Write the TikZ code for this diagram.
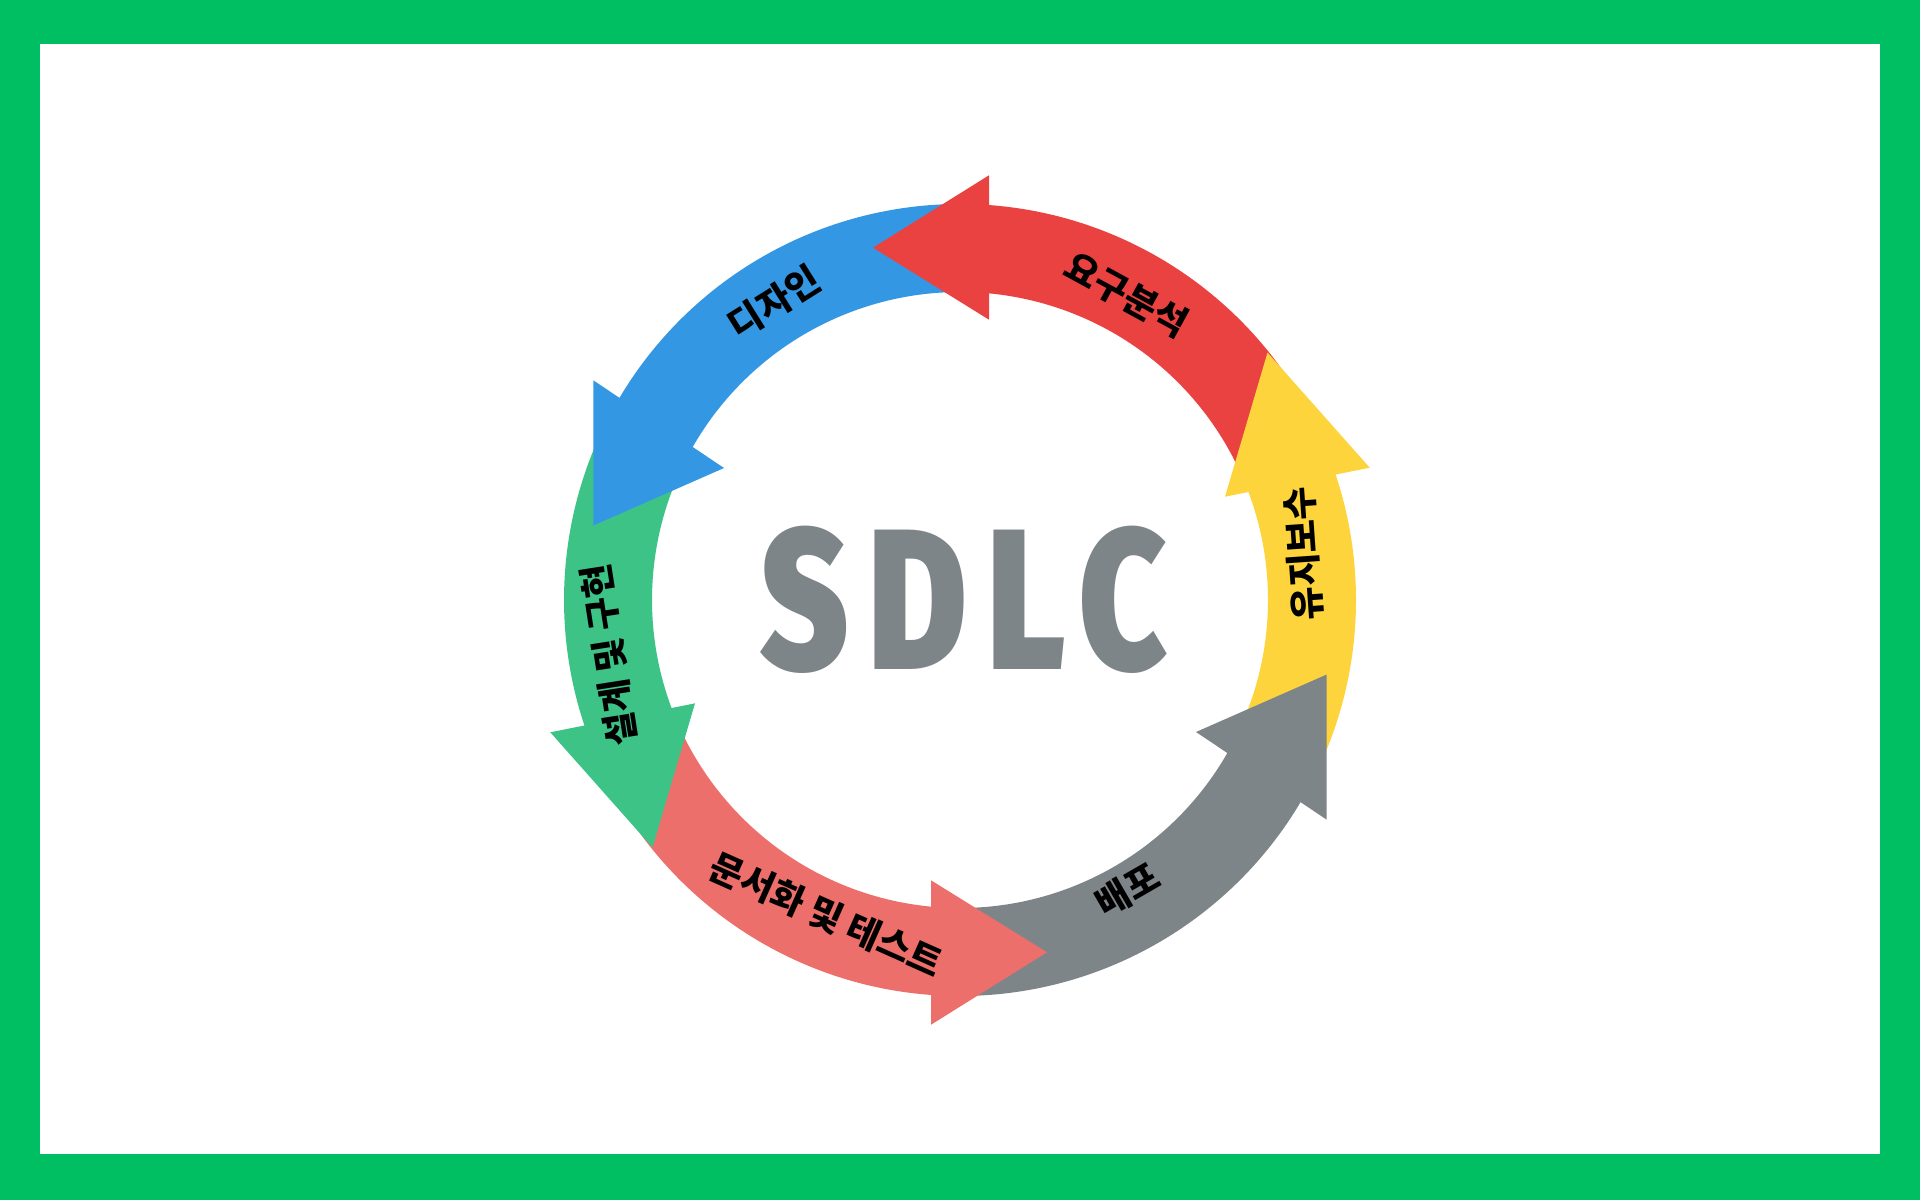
\documentclass[tikz,border=0pt]{standalone}
\usepackage{fontspec}
\usepackage{xcolor}
\usepackage{tikz}
\newfontfamily\krfont{Noto Sans CJK KR}[BoldFont={Noto Sans CJK KR Black}]
\newfontfamily\sdlcfont{Fira Sans}[BoldFont={Fira Sans Black},FakeStretch=0.75,LetterSpace=10]
\definecolor{SDFrame}{HTML}{00BF63}
\definecolor{SDRed}{HTML}{EA4141}
\definecolor{SDBlue}{HTML}{3497E4}
\definecolor{SDGreen}{HTML}{3EC387}
\definecolor{SDPink}{HTML}{EC6F6B}
\definecolor{SDGray}{HTML}{7E8589}
\definecolor{SDYellow}{HTML}{FDD43C}

\begin{document}
\begin{tikzpicture}[x=1cm,y=1cm,
  stagelbl/.style={font=\krfont\bfseries\fontsize{10.3}{10.3}\selectfont,text=black,inner sep=0pt}]
\path[use as bounding box] (0,0) rectangle (19.20,12.00);
\fill[SDFrame] (0,0) rectangle (19.20,12.00);
\fill[white] (0.40,0.46) rectangle (18.80,11.56);
\begin{scope}[shift={(9.60,6.00)}]
\fill[SDRed] (25:3.96) arc[start angle=25,end angle=88,radius=3.96] -- (88:3.08) arc[start angle=88,end angle=25,radius=3.08] -- cycle;
\fill[SDBlue] (90:3.96) arc[start angle=90,end angle=153,radius=3.96] -- (153:3.08) arc[start angle=153,end angle=90,radius=3.08] -- cycle;
\fill[SDGreen] (155:3.96) arc[start angle=155,end angle=204,radius=3.96] -- (204:3.08) arc[start angle=204,end angle=155,radius=3.08] -- cycle;
\fill[SDPink] (205:3.96) arc[start angle=205,end angle=268,radius=3.96] -- (268:3.08) arc[start angle=268,end angle=205,radius=3.08] -- cycle;
\fill[SDGray] (270:3.96) arc[start angle=270,end angle=333,radius=3.96] -- (333:3.08) arc[start angle=333,end angle=270,radius=3.08] -- cycle;
\fill[SDYellow] (335:3.96) arc[start angle=335,end angle=384,radius=3.96] -- (384:3.08) arc[start angle=384,end angle=335,radius=3.08] -- cycle;
\fill[SDRed] (0.29,4.247) -- (-0.87,3.523) -- (0.29,2.803) -- cycle;
\fill[SDBlue] (-3.667,2.197) -- (-3.667,0.745) -- (-2.36,1.32) -- cycle;
\fill[SDGreen] (-4.097,-1.323) -- (-3.075,-2.475) -- (-2.65,-1.033) -- cycle;
\fill[SDPink] (-0.29,-4.247) -- (0.87,-3.523) -- (-0.29,-2.803) -- cycle;
\fill[SDGray] (3.667,-2.197) -- (3.667,-0.745) -- (2.36,-1.32) -- cycle;
\fill[SDYellow] (4.097,1.323) -- (3.075,2.475) -- (2.65,1.033) -- cycle;
\node[stagelbl,rotate=-28.6] (reqlbl) at (61.4:3.48) {요구분석};
\node[stagelbl,rotate=32] (designlbl) at (122:3.51) {디자인};
\node[stagelbl,rotate=98.9] (buildlbl) at (188.9:3.55) {설계 및 구현};
\node[stagelbl,rotate=-24] (testlbl) at (247:3.42) {문서화 및 테스트};
\node[stagelbl,rotate=30] (deploylbl) at (300:3.35) {배포};
\node[stagelbl,rotate=94] (maintlbl) at (7.7:3.46) {유지보수};
\node[font=\sdlcfont\bfseries\fontsize{57}{57}\selectfont,text=SDGray,inner sep=0pt] (sdlc) at (0.04,0) {SDLC};
\end{scope}
\end{tikzpicture}
\end{document}
